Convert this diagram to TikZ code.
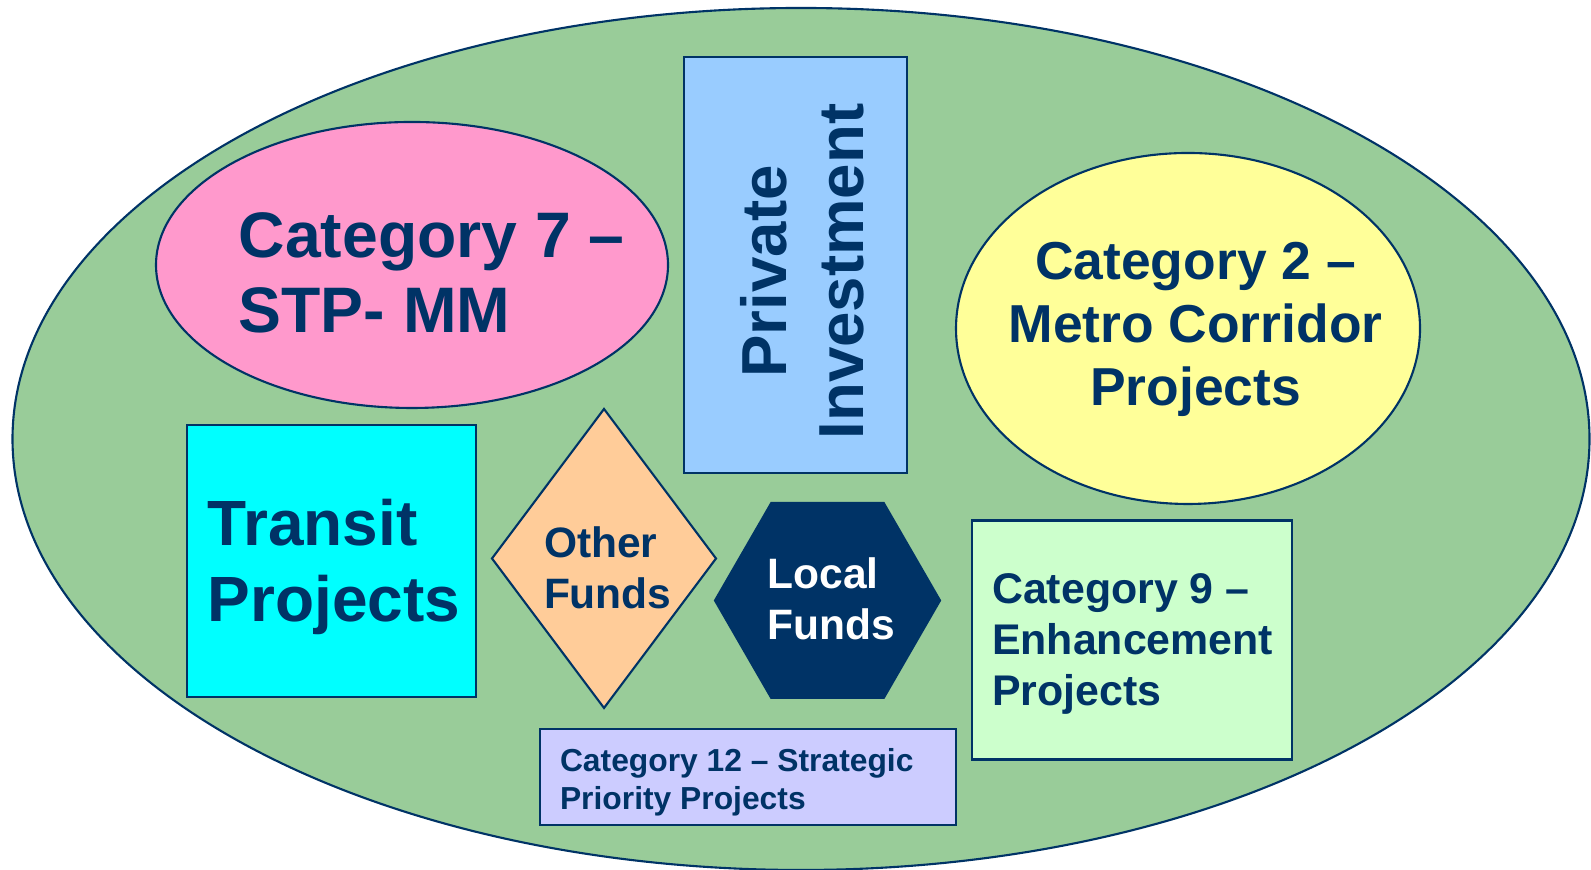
\documentclass[tikz,border=0pt]{standalone}
\usepackage{fontspec}
\setmainfont{Liberation Sans}
\usetikzlibrary{shapes.geometric, positioning}

\definecolor{navy}{HTML}{003366}
\definecolor{fieldgreen}{HTML}{99CC99}
\definecolor{pinkfill}{HTML}{FF99CC}
\definecolor{bluefill}{HTML}{99CCFF}
\definecolor{yellowfill}{HTML}{FFFF99}
\definecolor{cyanfill}{HTML}{00FFFF}
\definecolor{orangefill}{HTML}{FFCC99}
\definecolor{mintfill}{HTML}{CCFFCC}
\definecolor{lavenderfill}{HTML}{CCCCFF}

\begin{document}
\begin{tikzpicture}[
		shapebox/.style = {draw=navy, line width=0.6pt, inner sep=0pt, outer sep=0pt},
		block/.style = {shapebox, rectangle},
		oval/.style = {shapebox, ellipse},
		txt/.style = {inner sep=0pt, align=left, anchor=north west, text=navy}
	]
	\useasboundingbox (0,0) rectangle (15.91,8.70);

	% shapes
	\node[oval, fill=fieldgreen, minimum width=15.77cm, minimum height=8.62cm] (field) at (8.01,4.31) {};
	\node[oval, fill=pinkfill, minimum width=5.12cm, minimum height=2.86cm] (cat7) at (4.12,6.05) {};
	\node[block, fill=bluefill, minimum width=2.23cm, minimum height=4.16cm] (private) at (7.955,6.05) {};
	\node[oval, fill=yellowfill, minimum width=4.64cm, minimum height=3.51cm] (cat2) at (11.88,5.415) {};
	\node[block, fill=cyanfill, minimum width=2.89cm, minimum height=2.72cm] (transit) at (3.315,3.09) {};
	\node[shapebox, diamond, fill=orangefill, minimum width=2.24cm, minimum height=2.99cm] (other) at (6.04,3.115) {};
	\node[shapebox, regular polygon, regular polygon sides=6, fill=navy, minimum size=2.25cm] (local) at (8.275,2.695) {};
	\node[block, fill=mintfill, minimum width=3.20cm, minimum height=2.39cm] (cat9) at (11.32,2.30) {};
	\node[block, fill=lavenderfill, minimum width=4.16cm, minimum height=0.96cm] (cat12) at (7.48,0.93) {};

	% texts
	\node[txt, font=\fontsize{18.3}{21.4}\selectfont\bfseries] (cat7-txt) at (2.38,6.58) {Category 7 –\\STP- MM};
	\node[txt, anchor=center, align=center, rotate=90, font=\fontsize{18.1}{21.9}\selectfont\bfseries] (private-txt) at (8.025,5.985) {Private\\Investment};
	\node[txt, anchor=center, align=center, font=\fontsize{15.2}{17.9}\selectfont\bfseries] (cat2-txt) at (11.955,5.405) {Category 2 –\\Metro Corridor\\Projects};
	\node[txt, font=\fontsize{18.2}{21.8}\selectfont\bfseries] (transit-txt) at (2.07,3.72) {Transit\\Projects};
	\node[txt, font=\fontsize{12.1}{14.7}\selectfont\bfseries] (other-txt) at (5.433,3.445) {Other\\Funds};
	\node[txt, text=white, font=\fontsize{12.1}{14.5}\selectfont\bfseries] (local-txt) at (7.67,3.13) {Local\\Funds};
	\node[txt, font=\fontsize{12.2}{14.5}\selectfont\bfseries] (cat9-txt) at (9.914,2.975) {Category 9 –\\Enhancement\\Projects};
	\node[txt, font=\fontsize{9.05}{10.9}\selectfont\bfseries] (cat12-txt) at (5.593,1.222) {Category 12 – Strategic\\Priority Projects};
\end{tikzpicture}
\end{document}
